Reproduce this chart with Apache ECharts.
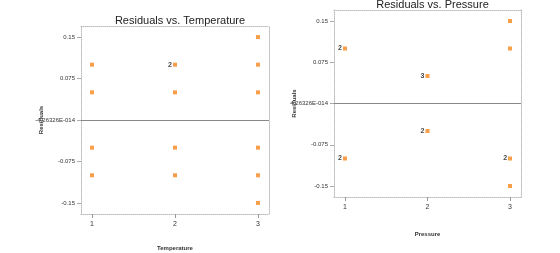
<!DOCTYPE html>
<html><head><meta charset="utf-8">
<script src="https://cdn.jsdelivr.net/npm/echarts@6/dist/echarts.min.js"></script>
<style>
html,body{margin:0;padding:0;background:#fff;}
#c1{position:absolute;left:0;top:0;width:290px;height:253px;overflow:hidden;}
#c2{position:absolute;left:290px;top:0;width:270px;height:253px;overflow:hidden;}
</style></head>
<body><div id="c1"></div><div id="c2"></div>
<script>
// Residuals vs. Temperature
const tempX = [1,1,1,1, 2,2,2,2, 3,3,3,3,3,3];
const tempY = [0.1,0.05,-0.05,-0.1, 0.1,0.05,-0.05,-0.1, 0.15,0.1,0.05,-0.05,-0.1,-0.15];
const tempLbl = ['','','','', '2','','','', '','','','','',''];
// Residuals vs. Pressure
const presX = [1,1, 2,2, 3,3,3,3];
const presY = [0.1,-0.1, 0.05,-0.05, 0.15,0.1,-0.1,-0.15];
const presLbl = ['2','2', '3','2', '','','2',''];
const xTicks = [1,2,3];
const yTicks = [-0.15,-0.075,0,0.075,0.15];
const zeroLabel = '-4.26326E-014';

const FONT = 'Liberation Sans';
function build(title, titleTop, xName, xs, ys, lbls, g, xNameGap){
  const data = xs.map((x,i)=>({value:[x,ys[i]], lbl:lbls[i]}));
  const dotted = {lineStyle:{color:'#bbbbbb', type:[1,1], width:1}};
  return {
    animation:false,
    title:{text:title, left:g.left+g.width/2, textAlign:'center', top:titleTop,
      textStyle:{fontFamily:FONT, fontSize:11, fontWeight:'normal', color:'#222'}},
    grid:{left:g.left, top:g.top, width:g.width, height:g.height, containLabel:false, outerBoundsMode:'none'},
    xAxis:[{type:'value', min:0.867, max:3.133, position:'bottom',
      name:xName, nameLocation:'middle', nameGap:xNameGap, nameMoveOverlap:false,
      nameTextStyle:{fontFamily:FONT, fontSize:6, color:'#333', fontWeight:'bold'},
      splitLine:{show:false},
      axisLine:Object.assign({show:true, onZero:false}, dotted),
      axisTick:{show:true, customValues:xTicks, length:4, lineStyle:{color:'#999'}},
      axisLabel:{customValues:xTicks, fontFamily:FONT, fontSize:7, color:'#333', margin:7}},
     {type:'value', min:0.867, max:3.133, position:'top',
      axisLine:Object.assign({show:true, onZero:false}, dotted), axisTick:{show:false}, axisLabel:{show:false}, splitLine:{show:false}}],
    yAxis:[{type:'value', min:-0.17, max:0.17, position:'left',
      name:'Residuals', nameLocation:'middle', nameGap:37, nameRotate:90, nameMoveOverlap:false,
      nameTextStyle:{fontFamily:FONT, fontSize:6, color:'#333', fontWeight:'bold'},
      splitLine:{show:false},
      axisLine:Object.assign({show:true, onZero:false}, dotted),
      axisTick:{show:true, customValues:yTicks, length:4, lineStyle:{color:'#aaa'}},
      axisLabel:{customValues:yTicks, fontFamily:FONT, fontSize:6, color:'#333', margin:6,
        formatter:v=> Math.abs(v)<1e-9 ? zeroLabel : String(v)}},
     {type:'value', min:-0.17, max:0.17, position:'right',
      axisLine:Object.assign({show:true, onZero:false}, dotted), axisTick:{show:false}, axisLabel:{show:false}, splitLine:{show:false}}],
    series:[{type:'scatter', symbol:'rect', symbolSize:4,
      itemStyle:{color:'#f7861c'},
      label:{show:true, position:'left', distance:1, fontFamily:FONT, fontSize:7, fontWeight:'bold', color:'#111',
        formatter:p=>p.data.lbl},
      data:data,
      markLine:{silent:true, symbol:'none', label:{show:false},
        lineStyle:{color:'#888', type:'solid', width:1}, data:[{yAxis:0}]}
    }]
  };
}
const ch1 = echarts.init(document.getElementById('c1'));
ch1.setOption(build('Residuals vs. Temperature', 10, 'Temperature', tempX, tempY, tempLbl,
  {left:81, top:26, width:188, height:188}, 31));
const ch2 = echarts.init(document.getElementById('c2'));
ch2.setOption(build('Residuals vs. Pressure', -6, 'Pressure', presX, presY, presLbl,
  {left:44, top:10, width:187, height:187}, 34));
</script></body></html>
